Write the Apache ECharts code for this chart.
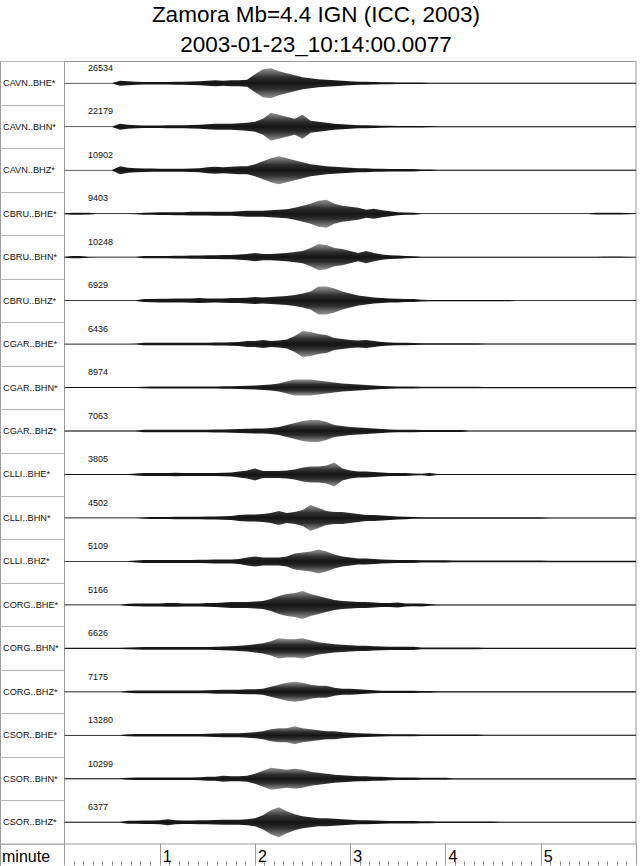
<!DOCTYPE html>
<html>
<head>
<meta charset="utf-8">
<script src="https://cdn.jsdelivr.net/npm/echarts@6/dist/echarts.min.js"></script>
<style>
html,body{margin:0;padding:0;background:#fff;}
#chart{width:640px;height:866px;}
</style>
</head>
<body>
<div id="chart"></div>
<script>
// ---------------- DATA ----------------
const TITLE_LINE_1 = 'Zamora Mb=4.4 IGN (ICC, 2003)';
const TITLE_LINE_2 = '2003-01-23_10:14:00.0077';
const X_AXIS_NAME = 'minute';

const STATIONS = ['CAVN..BHE*','CAVN..BHN*','CAVN..BHZ*','CBRU..BHE*','CBRU..BHN*','CBRU..BHZ*',
  'CGAR..BHE*','CGAR..BHN*','CGAR..BHZ*','CLLI..BHE*','CLLI..BHN*','CLLI..BHZ*',
  'CORG..BHE*','CORG..BHN*','CORG..BHZ*','CSOR..BHE*','CSOR..BHN*','CSOR..BHZ*'];

const PEAK_COUNTS = [26534,22179,10902,9403,10248,6929,6436,8974,7063,3805,4502,5109,5166,6626,7175,13280,10299,6377];

// seconds after 10:14:00
const SAMPLE_TIMES = [0,5,10,15,20,25,30,35,40,45,50,55,60,65,70,75,80,85,90,95,100,105,110,115,120,125,130,135,140,145,
  150,155,160,165,170,175,180,185,190,195,200,205,210,215,220,225,230,235,240,245,250,255,260,265,270,275,280,285,290,295,
  300,305,310,315,320,325,330,335,340,345,350,355,360];

const TIME_MAX = 360;        // seconds shown (6 minutes)
const MINUTE_STEP = 60;      // major tick every minute
const ROW_SPACING = 43.47;   // vertical units per trace row

// half peak-to-peak envelope of each trace (row units)
const CAVN_BHE = [0.3,0.3,0.3,0.3,0.3,0.3,0.3,2.5,2,1.5,
  1.2,1.2,1.3,1.3,1.5,1.5,1.8,2,2.5,3,2.5,3,3,3.5,9,14,15,12,10,8,6,5,4,3.5,3,2.5,2,1.5,1.5,1.2,1,0.9,0.8,0.8,0.8,
  0.7,0.6,0.45,0.45,0.45,0.45,0.45,0.45,0.45,0.45,0.45,0.45,0.45,0.45,0.45,0.45,0.45,0.45,0.45,0.45,0.45,0.45,0.45,0.45,0.45,0.45,0.45,0.45];
const CAVN_BHN = [0.3,0.3,0.3,0.3,0.3,0.3,0.3,3,2,1.5,
  1.3,1.3,1.3,1.5,1.5,1.5,1.8,2,2.5,3,3,3,3.5,4,5,8,14,12,10,8,12,6,5,4,3,2.5,2,1.5,1.5,1.2,1,0.9,0.8,0.8,0.8,
  0.7,0.6,0.5,0.5,0.5,0.5,0.5,0.5,0.5,0.5,0.5,0.5,0.5,0.5,0.5,0.5,0.5,0.5,0.5,0.5,0.5,0.5,0.5,0.5,0.5,0.5,0.5,0.5];
const CAVN_BHZ = [0.3,0.3,0.3,0.3,0.3,0.3,0.3,4,2.5,2,
  1.8,1.6,1.5,1.5,1.5,1.5,1.8,2,3,3.5,3,3.5,4,4,6,9,12,14,12,10,8,6,5,4,3.5,3,2.5,2,2,1.5,1.5,1.2,1.2,1.2,1.2,
  0.8,0.7,0.5,0.5,0.5,0.5,0.5,0.5,0.5,0.5,0.5,0.5,0.5,0.5,0.5,0.5,0.5,0.5,0.5,0.5,0.5,0.5,0.5,0.5,0.5,0.5,0.5,0.5];
const CBRU_BHE = [0.5,1,1,0.8,0.4,0.4,0.4,0.4,0.4,0.5,
  1,1.2,1.3,1.3,1.5,1.5,1.8,1.8,1.8,2,2,2,2.5,3,3,3,3.5,4,4.5,6,8,10,13,14,10,8,7,6,4,5,3.5,2.5,1.5,1.2,1,
  0.45,0.45,0.45,0.45,0.45,0.45,0.45,0.45,0.45,0.45,0.45,0.45,0.45,0.45,0.45,0.45,0.45,0.45,0.45,0.45,0.45,0.45,0.8,0.8,0.8,0.8,0.6,0.45];
const CBRU_BHN = [0.5,1,1,0.5,0.4,0.4,0.4,0.4,0.4,0.4,
  1,1,1.2,1.2,1.3,1.3,1.5,1.5,1.8,1.8,2,2,2.5,3,4,3,3,3.5,4,5,6,9,13,12,9,8,6,4,6,4,2.5,1.8,1.5,1.2,0.9,
  0.5,0.5,0.5,0.5,0.5,0.5,0.5,0.5,0.5,0.5,0.5,0.5,0.5,0.5,0.5,0.5,0.5,0.5,0.5,0.5,0.5,0.5,0.5,0.7,0.7,0.7,0.5,0.45];
const CBRU_BHZ = [0.4,0.4,0.4,0.4,0.4,0.4,0.4,0.4,0.4,0.4,
  1.5,1.7,1.8,1.8,2,2,2.2,2.5,2.2,2,2.2,2.5,2.5,2.8,3.5,3,3.5,4,4.5,5.5,7,9,14,14,12,9,7,5,4,3,2.5,2,1.8,1.5,1.5,
  0.9,0.7,0.55,0.55,0.55,0.55,0.55,0.55,0.55,0.55,0.55,0.55,0.45,0.45,0.45,0.45,0.45,0.45,0.45,0.45,0.45,0.45,0.45,0.45,0.45,0.45,0.45,0.45];
const CGAR_BHE = [0.4,0.4,0.4,0.4,0.4,0.4,0.4,0.4,0.4,0.5,
  1.2,1.3,1.3,1.3,1.3,1.3,1.3,1.2,1.3,1.5,1.5,1.8,2,3,3,4,3,3.5,4.5,8,13,12,10,9,6,5,4,3.5,4,3,2,1.5,1.3,1.2,1,
  0.8,0.8,0.8,0.8,0.8,0.8,0.8,0.8,0.5,0.5,0.5,0.5,0.5,0.5,0.5,0.5,0.5,0.5,0.5,0.5,0.5,0.5,0.5,0.5,0.5,0.5,0.5,0.5];
const CGAR_BHN = [0.5,0.5,0.5,0.5,0.5,0.5,0.5,0.5,0.5,0.5,
  0.8,1,1,1,1,1,1,1,1,1,1.2,1.3,1.5,1.8,2,2.5,3,4,6,8,8,8,7,6,5,4,3.5,3,2.5,2,1.5,1.3,1,1,1,
  0.8,0.8,0.8,0.8,0.8,0.8,0.8,0.8,0.6,0.6,0.6,0.6,0.6,0.6,0.6,0.6,0.6,0.6,0.6,0.6,0.6,0.6,0.6,0.6,0.6,0.6,0.6,0.6];
const CGAR_BHZ = [0.5,0.5,0.5,0.5,0.5,0.5,0.5,0.5,0.5,0.5,
  1.2,1.3,1.3,1.3,1.3,1.3,1.3,1.3,1.3,1.5,1.5,1.8,2,2.3,2.5,2.5,3,4,6,8,10,11,11,9,6,5,4,3.5,3,2.5,2,1.5,1.2,1.2,1.2,
  0.9,0.9,0.9,0.9,0.9,0.9,0.6,0.6,0.6,0.6,0.6,0.6,0.6,0.6,0.6,0.6,0.6,0.6,0.6,0.6,0.6,0.6,0.6,0.6,0.6,0.6,0.6,0.6];
const CLLI_BHE = [0.4,0.4,0.4,0.4,0.4,0.4,0.4,0.4,0.4,1,
  1.5,1.5,1.5,1.5,1.8,1.5,1.5,1.5,1.5,1.5,1.8,2,3,4,6,3.5,3.5,3.5,4,5,7,8,8,9,12,6,4,3,3,2.5,2,1.5,1.5,1.5,1,
  0.8,1.6,0.45,0.45,0.45,0.45,0.45,0.45,0.45,0.45,0.45,0.45,0.45,0.45,0.45,0.45,0.45,0.45,0.45,0.45,0.45,0.45,0.45,0.45,0.45,0.45,0.45,0.45];
const CLLI_BHN = [0.4,0.4,0.4,0.4,0.4,0.4,0.4,0.4,0.4,0.4,
  0.8,1,1,1,1.2,1.2,1.2,1.2,1.5,1.5,1.8,2,3,3.5,3.5,4,5,7,5,6,8,13,10,7,6,6,5,4,3,3,2.5,2,1.5,1.2,0.9,
  0.7,0.7,0.7,0.7,0.7,0.7,0.7,0.7,0.7,0.7,0.7,0.7,0.7,0.7,0.7,0.7,0.5,0.5,0.5,0.5,0.5,0.5,0.5,0.5,0.5,0.5,0.5,0.5];
const CLLI_BHZ = [0.4,0.4,0.4,0.4,0.4,0.4,0.4,0.4,0.4,1,
  1.5,1.5,1.5,1.5,1.5,1.5,1.5,1.6,1.8,2,2,2,2.5,4,5,4,4,4,5,8,9,10,12,10,7,5,4,3,3,2.5,2,1.8,1.5,1.5,1.5,
  1.1,1.1,1.1,1.1,0.9,0.9,0.9,0.9,0.9,0.9,0.9,0.9,0.9,0.9,0.9,0.9,0.7,0.7,0.7,0.7,0.7,0.7,0.7,0.7,0.7,0.7,0.7,0.7];
const CORG_BHE = [0.4,0.4,0.4,0.4,0.4,0.4,0.4,0.4,1.2,1.3,
  1.5,1.5,1.5,1.8,1.8,1.5,1.5,1.5,1.8,2,2.5,3,3,3,3.5,4,6,9,11,12,14,11,9,7,5,4,3.5,3,3,2.5,2,2,2.5,1.5,1.3,
  1.5,0.8,0.5,0.5,0.5,0.5,0.5,0.5,0.5,0.5,0.5,0.5,0.5,0.5,0.5,0.5,0.5,0.5,0.5,0.5,0.5,0.5,0.5,0.5,0.5,0.5,0.5,0.5];
const CORG_BHN = [0.6,0.6,0.6,0.6,0.6,0.6,0.6,0.6,0.8,1.2,
  1.3,1.3,1.3,1.3,1.3,1.3,1.3,1.3,1.3,1.5,1.8,2,2.5,3,4,5,7,10,9,9,10,8,6,5,4,3.5,3,2.5,2.5,2,1.8,1.5,1.5,1.5,1.5,
  0.9,0.9,0.9,0.9,0.9,0.9,0.9,0.9,0.7,0.7,0.7,0.7,0.7,0.7,0.7,0.7,0.7,0.7,0.7,0.7,0.7,0.7,0.7,0.7,0.7,0.7,0.7,0.7];
const CORG_BHZ = [0.4,0.4,0.4,0.4,0.4,0.4,0.4,0.4,1,1.3,
  1.3,1.3,1.3,1.3,1.3,1.3,1.3,1.3,1.5,1.8,2,2,2.2,2.5,2.5,3,5,7,9,10,9,7,6,6,4,3,3,2.5,2,1.5,1.2,1.2,1.2,1.2,1.2,
  0.9,0.9,0.55,0.55,0.55,0.55,0.55,0.55,0.55,0.55,0.55,0.55,0.55,0.55,0.55,0.55,0.55,0.55,0.55,0.55,0.55,0.55,0.55,0.55,0.55,0.55,0.55,0.55];
const CSOR_BHE = [0.4,0.4,0.4,0.4,0.4,0.4,0.4,0.4,1,1.2,
  1.2,1.2,1.2,1.2,1.2,1.2,1.2,1.3,1.5,1.8,2,2,2,2.5,3,4,6,7,7,9,7,6,5,4,4,3,2.5,2,1.8,1.5,1.3,1,1,1,1,
  0.8,0.8,0.8,0.8,0.8,0.8,0.8,0.8,0.5,0.5,0.5,0.5,0.5,0.5,0.5,0.5,0.5,0.5,0.5,0.5,0.5,0.5,0.5,0.5,0.5,0.5,0.5,0.5];
const CSOR_BHN = [0.5,0.5,0.5,0.5,0.5,0.5,0.5,0.5,1,1.2,
  1.2,1.2,1.2,1.2,1.2,1.2,1.3,1.5,2,2,3,2.5,2.5,3,5,8,11,10,9,10,9,7,6,5,4,3.5,3,2.5,2.5,2,2,1.5,1.3,1.3,1.3,
  1,1,1,1,0.65,0.65,0.65,0.65,0.65,0.65,0.65,0.65,0.65,0.65,0.65,0.65,0.65,0.65,0.65,0.65,0.65,0.65,0.65,0.65,0.65,0.65,0.65,0.65];
const CSOR_BHZ = [0.4,0.4,0.4,0.4,0.4,0.4,0.4,0.5,1.5,1.5,
  1.8,1.8,2,3,2,1.8,1.8,2,2,2.2,2.5,2.5,2.5,3,4,7,12,15,11,8,6,5,4,4,3.5,3,2.5,2,2,1.8,1.5,1.3,1.3,1.3,1.3,
  1,1,0.75,0.75,0.75,0.75,0.75,0.75,0.75,0.75,0.55,0.55,0.55,0.55,0.55,0.55,0.55,0.55,0.55,0.55,0.55,0.55,0.55,0.55,0.55,0.55,0.55,0.55];

const ENVELOPES = [CAVN_BHE,CAVN_BHN,CAVN_BHZ,CBRU_BHE,CBRU_BHN,CBRU_BHZ,
  CGAR_BHE,CGAR_BHN,CGAR_BHZ,CLLI_BHE,CLLI_BHN,CLLI_BHZ,
  CORG_BHE,CORG_BHN,CORG_BHZ,CSOR_BHE,CSOR_BHN,CSOR_BHZ];

// ---------------- STYLE / LAYOUT ----------------
const FONT = '"Liberation Sans", Arial, Helvetica, sans-serif';
const FRAME = '#9c9c9c';
const GRID = {left: 64.5, top: 61.5, width: 571.5, height: 782.5};

const chart = echarts.init(document.getElementById('chart'), null, {renderer: 'svg'});

function traceFill() {
  return new echarts.graphic.LinearGradient(0, 0, 0, 1, [
    {offset: 0, color: 'rgba(60,60,60,0.55)'},
    {offset: 0.3, color: 'rgba(25,25,25,0.9)'},
    {offset: 0.5, color: '#141414'},
    {offset: 0.7, color: 'rgba(25,25,25,0.9)'},
    {offset: 1, color: 'rgba(60,60,60,0.55)'}
  ]);
}

function renderTrace(params, api) {
  const i = api.value(0);
  const env = ENVELOPES[i];
  const base = -(i + 0.5) * ROW_SPACING;
  const n = Math.min(env.length, SAMPLE_TIMES.length);
  const top = [], bot = [];
  for (let k = 0; k < n; k++) {
    top.push(api.coord([SAMPLE_TIMES[k], base + env[k]]));
    bot.push(api.coord([SAMPLE_TIMES[k], base - env[k]]));
  }
  const pts = top.concat(bot.reverse());
  const b0 = api.coord([0, base]);
  const b1 = api.coord([TIME_MAX, base]);
  const rowTop = api.coord([0, -i * ROW_SPACING]);
  return {
    type: 'group',
    children: [
      {type: 'line', shape: {x1: b0[0], y1: b0[1], x2: b1[0], y2: b1[1]},
        style: {stroke: '#777', lineWidth: 0.5}},
      {type: 'polygon', shape: {points: pts}, style: {fill: traceFill(), stroke: null}},
      {type: 'text', style: {text: String(PEAK_COUNTS[i]), x: rowTop[0] + 23.5, y: rowTop[1] + 6.5,
        align: 'left', verticalAlign: 'middle', textAlign: 'left', textVerticalAlign: 'middle',
        fontSize: 9, fontFamily: FONT, fill: '#111'}}
    ]
  };
}

const option = {
  animation: false,
  backgroundColor: '#fff',
  grid: {left: GRID.left, top: GRID.top, width: GRID.width, height: GRID.height,
    show: true, borderColor: FRAME, borderWidth: 1, backgroundColor: 'transparent'},
  xAxis: [
    {type: 'value', min: 0, max: TIME_MAX, interval: MINUTE_STEP, position: 'bottom',
      axisLine: {show: true, lineStyle: {color: FRAME, width: 1}},
      axisTick: {show: false}, splitLine: {show: false},
      axisLabel: {show: true, showMinLabel: false, showMaxLabel: false, align: 'left', verticalAlign: 'top',
        margin: 4, padding: [0, 0, 0, 3], fontSize: 16, fontFamily: FONT, color: '#000',
        formatter: v => (v > 0 && v < TIME_MAX) ? String(v / MINUTE_STEP) : ''}},
    {type: 'value', min: 0, max: TIME_MAX, interval: MINUTE_STEP, position: 'bottom', offset: 21.5,
      axisLine: {show: false},
      axisTick: {show: true, inside: true, length: 22, lineStyle: {color: FRAME, width: 1}},
      minorTick: {show: true, splitNumber: 10, length: 4, lineStyle: {color: '#888', width: 1}},
      axisLabel: {show: false}, splitLine: {show: false}}
  ],
  yAxis: [
    {type: 'value', min: -18 * ROW_SPACING, max: 0, show: false, splitLine: {show: false}},
    {type: 'category', data: STATIONS, inverse: true, position: 'left', boundaryGap: true,
      axisLine: {show: true, lineStyle: {color: FRAME, width: 1}},
      axisTick: {show: true, interval: 0, length: 64.5, lineStyle: {color: '#b4b4b4', width: 1}},
      axisLabel: {show: true, interval: 0, align: 'left', margin: 61.5, fontSize: 9.2,
        fontFamily: FONT, color: '#111'},
      splitLine: {show: false}}
  ],
  graphic: [
    {type: 'text', x: 316, y: 14, style: {text: TITLE_LINE_1, align: 'center', verticalAlign: 'middle',
      fontSize: 22.5, fontFamily: FONT, fill: '#000'}},
    {type: 'text', x: 316, y: 44, style: {text: TITLE_LINE_2, align: 'center', verticalAlign: 'middle',
      fontSize: 22.5, fontFamily: FONT, fill: '#000'}},
    {type: 'line', shape: {x1: 0.5, y1: 61.5, x2: 0.5, y2: 866}, style: {stroke: FRAME, lineWidth: 1}},
    {type: 'line', shape: {x1: 0, y1: 844, x2: 64.5, y2: 844}, style: {stroke: FRAME, lineWidth: 1}},
    {type: 'text', x: 2, y: 856, style: {text: X_AXIS_NAME, align: 'left', verticalAlign: 'middle',
      fontSize: 16, fontFamily: FONT, fill: '#000'}}
  ],
  series: [{
    type: 'custom',
    xAxisIndex: 0, yAxisIndex: 0,
    clip: true,
    renderItem: renderTrace,
    data: STATIONS.map((s, i) => [i])
  }]
};

chart.setOption(option);
</script>
</body>
</html>
